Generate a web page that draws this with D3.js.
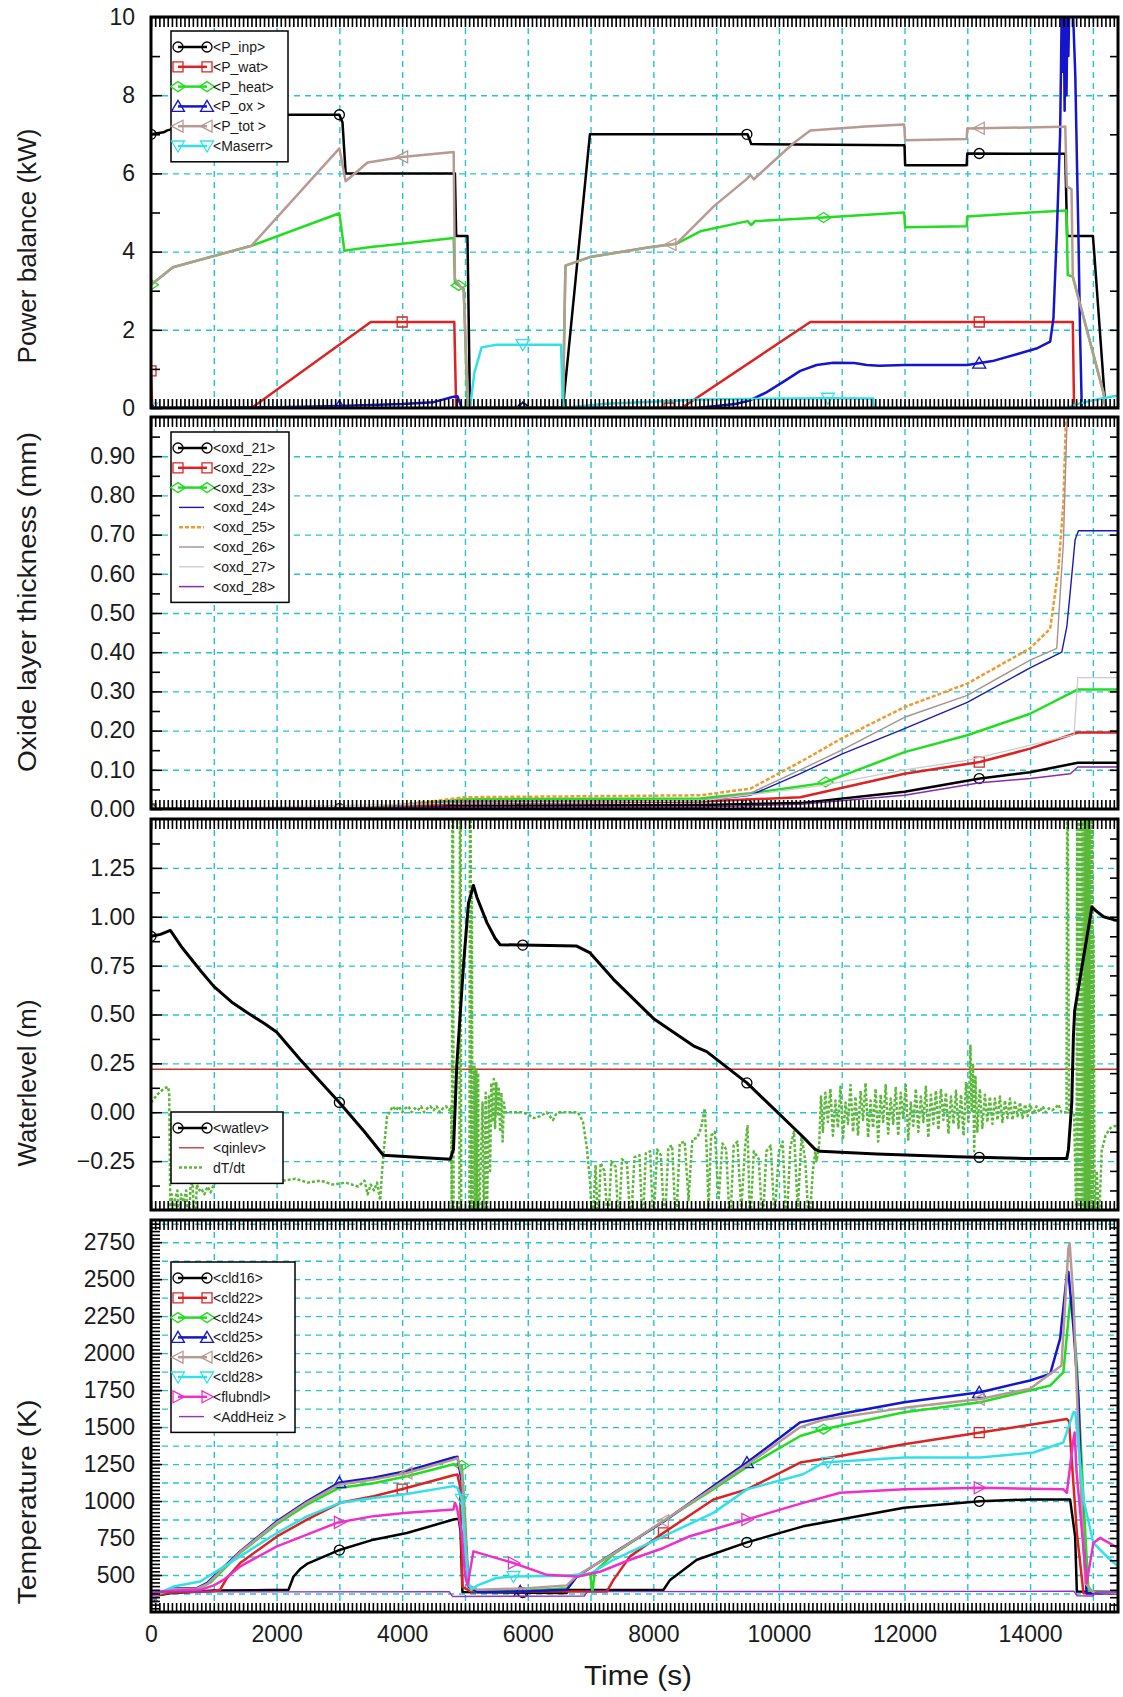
<!DOCTYPE html>
<html>
<head>
<meta charset="utf-8">
<script src="https://cdn.jsdelivr.net/npm/d3@7"></script>
<style>
  body { margin: 0; background: #fff; }
  svg text { font-family: "Liberation Sans", Arial, sans-serif; fill: #1a1a1a; }
  .grid line { stroke: #22c6d0; stroke-width: 1.4; stroke-dasharray: 6,5; }
  .ticks line { stroke: #000; stroke-width: 1.6; }
</style>
</head>
<body>
<svg id="chart" width="1123" height="1697"></svg>
<script>
// ---- time axis ----
var timeDomain = [0, 15400];
var timeTicks = [0, 2000, 4000, 6000, 8000, 10000, 12000, 14000];
var timeGrid = [1000, 2000, 3000, 4000, 5000, 6000, 7000, 8000, 9000, 10000, 11000, 12000, 13000, 14000, 15000];
var edgeTickStep = 1000 / 15;

// ---- panel 1: power balance (kW) ----
var pInp = [[0,7.0],[200,7.05],[260,7.1],[500,7.2],[650,7.5],[3000,7.5],[3050,7.3],[3100,6.0],[4840,6.0],[4860,4.4],[5040,4.4],[5080,0],[6560,0],[6990,7.0],[9500,7.0],[9560,6.75],[12000,6.72],[12010,6.21],[12990,6.21],[13000,6.51],[14560,6.5],[14590,4.4],[15000,4.4],[15020,4.0],[15200,0],[15400,0]];
var pWat = [[0,0.95],[20,0],[1600,0],[3500,2.2],[4830,2.2],[4860,0],[8450,0],[10500,2.2],[14680,2.2],[14700,0],[15400,0]];
var pHeat = [[0,3.15],[350,3.6],[1600,4.15],[3000,4.98],[3080,4.02],[3500,4.12],[4000,4.2],[4820,4.35],[4840,3.2],[4980,3.05],[5040,0],[6560,0],[6600,3.64],[6990,3.86],[7936,4.11],[8365,4.2],[8748,4.52],[9500,4.78],[9560,4.68],[9620,4.78],[10710,4.87],[11994,5.0],[12010,4.62],[12990,4.65],[13000,4.9],[14000,5.0],[14580,5.05],[14600,3.4],[14680,3.36],[15170,0.38],[15200,0],[15400,0]];
var pOx = [[0,0],[2000,0.02],[3000,0.05],[4000,0.1],[4500,0.15],[4800,0.28],[4880,0.3],[4950,0],[8700,0],[9000,0.05],[9300,0.1],[9545,0.2],[9800,0.4],[10100,0.7],[10340,0.95],[10600,1.1],[10865,1.16],[11200,1.15],[11400,1.1],[11600,1.08],[12000,1.1],[13000,1.1],[13400,1.2],[13800,1.38],[14100,1.52],[14320,1.7],[14372,2.3],[14425,4.44],[14478,7.0],[14505,10.3],[14520,8.6],[14535,10.3],[14550,7.6],[14565,10.3],[14580,8.0],[14595,10.3],[14610,9.0],[14625,10.3],[14680,10.3],[14720,8.5],[14750,6.0],[14770,4.4],[14796,1.9],[14823,0],[15400,0]];
var pTot = [[0,3.15],[350,3.6],[1600,4.15],[3000,6.64],[3100,5.8],[3450,6.28],[4000,6.42],[4820,6.55],[4840,3.3],[4980,3.0],[5050,0],[6560,0],[6600,3.64],[6990,3.86],[7936,4.11],[8365,4.2],[8970,5.17],[9490,5.86],[9545,5.96],[9600,5.85],[10230,6.77],[10500,7.1],[11380,7.2],[11994,7.25],[12010,6.85],[12990,6.88],[13000,7.15],[14505,7.19],[14560,7.2],[14585,5.66],[14660,5.6],[14680,3.36],[15170,0.38],[15200,0],[15400,0]];
var maserr = [[0,0],[5080,0],[5150,0.9],[5265,1.55],[5500,1.62],[6530,1.62],[6560,0],[7242,0.11],[8000,0.16],[8748,0.22],[10700,0.25],[11500,0.24],[11510,0],[14600,0],[14700,0.08],[15000,0.2],[15400,0.32]];
var powerTicks = [0, 2, 4, 6, 8, 10];
var powerGrid = [2, 4, 6, 8];
var powerMinor = [1, 3, 5, 7, 9];
var powerRight = [1, 2, 3, 4, 5, 6, 7, 8, 9];

// ---- panel 2: oxide layer thickness (mm) ----
var oxd21 = [[0,0],[3500,0.001],[5000,0.008],[8748,0.01],[10340,0.015],[12000,0.044],[13200,0.078],[14000,0.094],[14700,0.116],[14760,0.118],[15400,0.118]];
var oxd22 = [[0,0],[3500,0.002],[5000,0.015],[8748,0.019],[10340,0.03],[12000,0.09],[13200,0.12],[14000,0.154],[14700,0.192],[14760,0.195],[15400,0.195]];
var oxd23 = [[0,0],[3500,0.003],[5000,0.025],[8748,0.027],[9545,0.04],[10700,0.066],[12000,0.145],[13000,0.188],[14000,0.243],[14700,0.3],[14760,0.305],[15400,0.305]];
var oxd24 = [[0,0],[3500,0.002],[5000,0.02],[8748,0.02],[9545,0.035],[10340,0.09],[11000,0.14],[12000,0.205],[13000,0.272],[14000,0.36],[14505,0.4],[14585,0.465],[14637,0.55],[14717,0.687],[14770,0.71],[15400,0.71]];
var oxd25 = [[0,0],[3500,0.003],[4500,0.02],[5000,0.03],[8748,0.035],[9545,0.052],[10340,0.12],[11000,0.18],[12000,0.26],[13000,0.32],[14000,0.41],[14320,0.46],[14450,0.61],[14530,0.78],[14580,1.05],[15400,1.05]];
var oxd26 = [[0,0],[3500,0.002],[5000,0.02],[8748,0.022],[9545,0.04],[10340,0.1],[11000,0.15],[12000,0.234],[13000,0.29],[14000,0.38],[14425,0.41],[14530,0.68],[14600,1.05],[15400,1.05]];
var oxd27 = [[0,0],[5000,0.015],[8748,0.02],[10700,0.06],[12000,0.1],[13000,0.124],[14700,0.19],[14760,0.335],[15400,0.335]];
var oxd28 = [[0,0],[5000,0.005],[8748,0.005],[10340,0.012],[12000,0.035],[13200,0.067],[14000,0.078],[14640,0.09],[14760,0.107],[15400,0.107]];
var oxideTicks = [0, 0.1, 0.2, 0.3, 0.4, 0.5, 0.6, 0.7, 0.8, 0.9];
var oxideGrid = [0.1, 0.2, 0.3, 0.4, 0.5, 0.6, 0.7, 0.8, 0.9];
var oxideMinor = [0.05, 0.15, 0.25, 0.35, 0.45, 0.55, 0.65, 0.75, 0.85, 0.95];
var oxideRight = [0.05, 0.1, 0.15, 0.2, 0.25, 0.3, 0.35, 0.4, 0.45, 0.5, 0.55, 0.6, 0.65, 0.7, 0.75, 0.8, 0.85, 0.9, 0.95];

// ---- panel 3: water level (m) ----
var watlev = [[0,0.9],[150,0.91],[308,0.93],[500,0.84],[800,0.72],[1000,0.644],[1300,0.56],[1530,0.51],[1800,0.455],[2000,0.41],[2375,0.27],[3000,0.05],[3400,-0.1],[3700,-0.22],[4235,-0.23],[4765,-0.24],[4817,-0.19],[4870,0.24],[4976,0.75],[5056,1.07],[5135,1.16],[5190,1.1],[5350,0.97],[5480,0.89],[5560,0.857],[6780,0.85],[6993,0.815],[7365,0.68],[8000,0.48],[8638,0.34],[8850,0.31],[9490,0.15],[10365,-0.12],[10577,-0.19],[10656,-0.2],[11560,-0.214],[12833,-0.228],[13947,-0.236],[14585,-0.236],[14611,-0.19],[14664,0.05],[14690,0.39],[14710,0.52],[14985,1.05],[15050,1.03],[15170,1.0],[15330,0.985],[15400,0.98]];
var qinlev = [[0,0.22],[15400,0.22]];
var dTdt = [[0,0.05],[100,0.09],[200,0.12],[270,0.13],[290,0.1],
  [310,-0.6],[330,-0.42],[360,-0.6],[380,-0.45],[420,-0.4],[450,-0.55],[480,-0.42],[520,-0.46],[560,-0.4],[600,-0.6],[630,-0.38],[660,-0.36],[700,-0.6],[730,-0.37],[770,-0.4],[800,-0.39],[850,-0.42],[900,-0.38],[950,-0.41],[1000,-0.37],
  [1100,-0.33],[1300,-0.35],[1500,-0.32],[1700,-0.34],[1900,-0.33],[2100,-0.35],[2300,-0.34],[2500,-0.36],[2700,-0.35],[2900,-0.37],[3100,-0.36],[3300,-0.38],[3400,-0.35],[3450,-0.42],[3500,-0.37],[3550,-0.4],[3600,-0.36],[3650,-0.45],[3680,-0.3],
  [3720,-0.15],[3760,-0.02],[3800,0.0],[3850,0.03],[3900,0.01],[3950,0.03],[4000,0.0],[4050,0.02],[4100,0.03],[4150,0.0],[4200,0.02],[4250,0.01],[4300,0.03],[4350,0.0],[4400,0.02],[4450,0.03],[4500,0.01],[4550,0.03],[4600,0.0],[4650,0.02],[4700,0.03],[4750,0.01],[4780,0.03],
  [4790,-0.6],[4800,1.6],[4810,1.6],[4820,-0.6],[4910,-0.6],[4920,1.6],[4930,1.6],[4940,-0.6],[5070,-0.6],[5080,1.6],[5090,1.6],[5100,-0.6],[5110,1.15],[5120,-0.6],[5150,0.24],[5160,-0.6],[5180,0.22],[5190,-0.6],[5210,0.2],[5220,-0.6],
  [5280,0.05],[5300,-0.6],[5330,0.1],[5350,-0.55],[5380,0.08],[5400,-0.3],[5420,0.15],[5440,-0.05],[5460,0.17],[5480,-0.08],[5500,0.15],[5520,-0.02],[5540,0.12],[5560,-0.1],[5580,0.1],[5600,-0.15],[5620,0.05],[5640,0.0],
  [5700,0.0],[5900,0.0],[6000,-0.01],[6100,-0.03],[6200,-0.02],[6300,0.0],[6400,-0.04],[6450,-0.01],[6500,0.0],[6800,0.0],[6880,-0.05],[6940,-0.18],[6990,-0.35],[7030,-0.6],
  [7080,-0.27],[7120,-0.6],[7160,-0.26],[7220,-0.3],[7280,-0.6],[7330,-0.25],[7400,-0.28],[7450,-0.6],[7500,-0.24],[7580,-0.26],[7640,-0.6],[7700,-0.23],[7780,-0.22],[7830,-0.6],[7880,-0.21],[7950,-0.2],[8000,-0.6],[8060,-0.19],[8120,-0.22],[8180,-0.6],[8240,-0.18],[8300,-0.17],[8360,-0.6],[8420,-0.16],[8500,-0.15],[8560,-0.45],[8620,-0.14],[8700,-0.13],[8760,-0.08],[8820,0.02],[8850,-0.2],[8880,-0.5],[8920,-0.12],[8980,-0.1],[9040,-0.45],[9100,-0.16],[9160,-0.19],[9220,-0.6],[9280,-0.17],[9340,-0.15],[9400,-0.5],[9460,-0.18],[9500,-0.07],[9540,-0.6],[9600,-0.2],[9680,-0.24],[9740,-0.6],[9800,-0.2],[9870,-0.17],[9930,-0.55],[10000,-0.2],[10060,-0.15],[10120,-0.6],[10180,-0.18],[10240,-0.1],[10300,-0.5],[10360,-0.12],[10420,-0.25],[10480,-0.6],[10540,-0.3],[10580,-0.2],
  [10600,-0.25],[10640,-0.17],[10670,0.08],[10700,-0.1],[10740,0.1],[10780,-0.05],[10820,0.12],[10860,-0.12],[10900,0.06],[10940,-0.08],[10980,0.13],[11020,-0.14],[11060,0.05],[11100,-0.06],[11140,0.14],[11180,-0.1],[11220,0.08],[11260,-0.12],[11300,0.11],[11340,-0.04],[11380,0.15],[11420,-0.13],[11460,0.06],[11500,-0.08],[11540,0.12],[11580,-0.15],[11620,0.09],[11660,-0.05],[11700,0.14],[11740,-0.11],[11780,0.07],[11820,-0.06],[11860,0.13],[11900,-0.12],[11940,0.1],[11980,-0.03],[12020,0.14],[12060,-0.14],[12100,0.05],[12140,-0.07],[12180,0.12],[12220,-0.1],[12260,0.08],[12300,-0.05],[12340,0.13],[12380,-0.13],[12420,0.09],[12460,-0.06],[12500,0.11],[12540,-0.09],[12580,0.12],[12620,-0.04],[12660,0.1],[12700,-0.11],[12740,0.08],[12780,-0.06],[12820,0.11],[12860,-0.08],[12900,0.09],[12940,-0.12],[12980,0.15],[13020,-0.05],[13050,0.34],[13070,0.0],[13090,0.25],[13110,-0.2],[13130,0.18],[13160,-0.1],[13200,0.12],[13240,-0.08],[13280,0.09],[13320,-0.05],[13360,0.08],[13400,-0.06],[13440,0.07],[13480,-0.04],[13520,0.08],[13560,-0.05],[13600,0.06],[13640,-0.03],[13680,0.07],[13720,-0.04],[13760,0.05],[13800,-0.02],[13840,0.05],[13880,-0.03],[13920,0.04],[13960,-0.02],[14000,0.04],[14050,-0.01],[14100,0.03],[14150,0.0],[14200,0.03],[14250,0.0],[14300,0.02],[14350,0.01],[14400,0.02],[14450,0.04],[14500,0.0],[14560,0.0],
  [14580,0.0],[14590,1.6],[14600,1.6],[14620,0.0],[14700,0.0],[14740,-0.6],[14750,1.6],[14760,-0.6],[14770,1.6],[14780,-0.6],[14790,1.6],[14800,-0.6],[14810,1.6],[14820,-0.6],[14830,1.6],[14840,-0.6],[14850,1.6],[14860,-0.6],[14870,1.6],[14880,-0.6],[14890,1.6],[14900,-0.6],[14910,1.6],[14920,-0.6],[14930,1.6],[14940,-0.6],[14950,1.6],[14960,-0.6],[14970,1.6],[14980,-0.6],[14990,1.6],[15000,-0.6],[15010,0.9],[15030,-0.6],[15060,-0.3],[15100,-0.55],[15140,-0.2],[15200,-0.12],[15280,-0.08],[15350,-0.07],[15400,-0.07]];
var waterTicks = [-0.25, 0, 0.25, 0.5, 0.75, 1.0, 1.25];
var waterGrid = [-0.25, 0, 0.25, 0.5, 0.75, 1.0, 1.25];
var waterMinor = [-0.375, -0.125, 0.125, 0.375, 0.625, 0.875, 1.125, 1.375];
var waterRight = [-0.4, -0.3, -0.2, -0.1, 0, 0.1, 0.2, 0.3, 0.4, 0.5, 0.6, 0.7, 0.8, 0.9, 1.0, 1.1, 1.2, 1.3, 1.4];

// ---- panel 4: temperature (K) ----
var cld16 = [[0,354],[300,377],[1000,395],[2190,400],[2270,490],[2375,540],[2483,575],[3013,671],[3543,739],[4075,784],[4817,875],[4900,880],[4930,800],[4960,385],[6620,378],[6640,399],[8160,399],[8267,467],[8693,603],[9490,721],[10385,829],[10975,875],[11994,955],[13205,999],[14000,1011],[14637,1011],[14717,762],[14745,388],[15400,385]];
var cld22 = [[0,354],[300,380],[995,390],[1100,400],[1208,479],[1420,581],[2005,761],[2483,874],[3013,988],[3543,1033],[4021,1083],[4817,1174],[4880,1180],[4920,1100],[4960,420],[5100,388],[7259,388],[7365,467],[7630,626],[8161,785],[8957,1011],[9490,1079],[10340,1260],[10975,1305],[11994,1384],[13205,1463],[14585,1554],[14620,1540],[14745,785],[14850,377],[15400,377]];
var cld24 = [[0,354],[359,405],[730,405],[950,450],[1420,650],[2005,845],[2483,975],[2987,1088],[3543,1120],[4075,1168],[4817,1249],[4950,1240],[5000,900],[5060,420],[5200,385],[6000,395],[6622,410],[6782,490],[6993,510],[7030,390],[7070,525],[7365,640],[8161,865],[8957,1080],[9490,1230],[10340,1440],[10710,1486],[11994,1600],[13205,1668],[14320,1781],[14530,1872],[14637,2347],[14660,2370],[14745,1917],[14850,1011],[14930,388],[15400,380]];
var cld25 = [[0,354],[359,411],[730,411],[890,445],[1420,660],[2005,863],[2483,999],[2987,1124],[3543,1158],[4075,1203],[4817,1294],[4880,1300],[4950,1124],[5056,422],[5200,385],[6000,390],[6622,400],[6782,490],[7365,649],[8161,860],[8957,1101],[9490,1260],[10340,1532],[10975,1588],[11994,1668],[13205,1736],[14000,1815],[14320,1860],[14478,2098],[14585,2528],[14610,2550],[14690,2176],[14770,1690],[14840,785],[14900,377],[15400,377]];
var cld26 = [[0,354],[359,408],[730,408],[900,440],[1420,655],[2005,855],[2483,990],[2987,1110],[3543,1145],[4075,1190],[4817,1280],[4880,1290],[4950,1180],[5056,430],[5200,400],[6000,410],[6622,430],[6782,495],[7365,645],[8161,865],[8957,1090],[9490,1245],[10340,1500],[10710,1550],[11994,1630],[13205,1690],[14000,1760],[14500,1917],[14610,2709],[14630,2743],[14690,2370],[14770,1464],[14880,445],[15000,385],[15400,380]];
var cld28 = [[0,354],[359,422],[783,456],[1420,626],[2005,784],[2483,897],[3013,988],[3543,1020],[4021,1045],[4817,1101],[4880,1090],[4950,1011],[5000,700],[5056,450],[5100,400],[5200,430],[5500,480],[5772,490],[6600,495],[7000,510],[7365,603],[8161,762],[8957,920],[9490,1079],[10385,1181],[10710,1260],[11994,1294],[13205,1294],[14054,1328],[14530,1396],[14690,1600],[14720,1600],[14850,1011],[15008,717],[15275,603],[15400,560]];
var flubndl = [[0,354],[100,388],[600,399],[800,402],[1000,430],[1155,467],[1420,558],[2005,694],[2483,773],[2960,853],[3543,898],[4075,921],[4817,943],[4840,988],[4870,960],[4950,784],[5000,500],[5040,430],[5135,660],[5772,581],[6304,501],[6800,490],[7160,524],[7630,603],[8161,683],[8580,762],[9490,875],[10385,988],[10975,1056],[11994,1079],[13205,1090],[14530,1079],[14585,1056],[14690,1418],[14710,1463],[14740,1200],[14780,1011],[14900,445],[15008,717],[15115,751],[15400,683]];
var addHeiz = [[0,385],[4750,388],[4800,355],[6900,358],[6950,388],[14700,390],[14750,360],[15000,358],[15050,385],[15400,385]];
var tempTicks = [500, 750, 1000, 1250, 1500, 1750, 2000, 2250, 2500, 2750];
var tempGrid = d3.range(375, 2900, 125);
var tempMinor = d3.range(275, 2900, 25);
var tempRight = d3.range(300, 2900, 50);

// ---- layout ----
var plotLeft = 151, plotRight = 1118;
var svg = d3.select('#chart');
var x = d3.scaleLinear().domain(timeDomain).range([plotLeft, plotRight]);

var panels = [
  { id: 1, top: 17, bottom: 408, domain: [0, 10], ticks: powerTicks, grid: powerGrid, minor: powerMinor, right: powerRight,
    fmt: d3.format('d'), title: 'Power balance (kW)', titleLen: 235, titleY: 246,
    legend: { x: 171, y: 31, w: 117 },
    series: [
      { name: '<P_inp>', data: pInp, color: '#000000', width: 2.5, marker: 'circle', marks: [0, 3000, 5920, 9490, 13190] },
      { name: '<P_wat>', data: pWat, color: '#dd2222', width: 2.5, marker: 'square', marks: [0, 4000, 8250, 13190] },
      { name: '<P_heat>', data: pHeat, color: '#22dd22', width: 2.5, marker: 'diamond', marks: [0, 4900, 10710] },
      { name: '<P_ox >', data: pOx, color: '#1515cc', width: 2.5, marker: 'up', marks: [0, 3000, 5920, 13190] },
      { name: '<P_tot >', data: pTot, color: '#b89a94', width: 2.5, marker: 'left', marks: [4007, 8280, 13190] },
      { name: '<Maserr>', data: maserr, color: '#33e0ea', width: 2.5, marker: 'down', marks: [0, 5920, 10780] }
    ] },
  { id: 2, top: 417, bottom: 809, domain: [0, 1.0], ticks: oxideTicks, grid: oxideGrid, minor: oxideMinor, right: oxideRight,
    fmt: d3.format('.2f'), title: 'Oxide layer thickness (mm)', titleLen: 340, titleY: 602,
    legend: { x: 171, y: 432, w: 118 },
    series: [
      { name: '<oxd_21>', data: oxd21, color: '#000000', width: 2.5, marker: 'circle', marks: [0, 3000, 5920, 9490, 13190] },
      { name: '<oxd_22>', data: oxd22, color: '#dd2222', width: 2.5, marker: 'square', marks: [0, 13190] },
      { name: '<oxd_23>', data: oxd23, color: '#22dd22', width: 2.5, marker: 'diamond', marks: [0, 10745] },
      { name: '<oxd_24>', data: oxd24, color: '#1a1ab8', width: 1.4 },
      { name: '<oxd_25>', data: oxd25, color: '#ee9a30', width: 2.5, dash: '4,2' },
      { name: '<oxd_26>', data: oxd26, color: '#a89090', width: 1.4 },
      { name: '<oxd_27>', data: oxd27, color: '#cccccc', width: 1.3 },
      { name: '<oxd_28>', data: oxd28, color: '#8a2ab0', width: 1.5 }
    ] },
  { id: 3, top: 819, bottom: 1210, domain: [-0.5, 1.5], ticks: waterTicks, grid: waterGrid, minor: waterMinor, right: waterRight,
    fmt: d3.format('.2f'), title: 'Waterlevel (m)', titleLen: 167, titleY: 1083,
    legend: { x: 171, y: 1112, w: 112 },
    series: [
      { name: '<watlev>', data: watlev, color: '#000000', width: 3, marker: 'circle', marks: [0, 3000, 5920, 9490, 13190], order: 2 },
      { name: '<qinlev>', data: qinlev, color: '#c83030', width: 1.3, order: 0 },
      { name: 'dT/dt', data: dTdt, color: '#5cb83a', width: 2.5, dash: '3,2', order: 1 }
    ] },
  { id: 4, top: 1220, bottom: 1612, domain: [250, 2900], ticks: tempTicks, grid: tempGrid, minor: tempMinor, right: tempRight,
    fmt: d3.format('d'), title: 'Temperature (K)', titleLen: 205, titleY: 1502,
    legend: { x: 171, y: 1262, w: 124 },
    series: [
      { name: '<cld16>', data: cld16, color: '#000000', width: 2.5, marker: 'circle', marks: [0, 3000, 5920, 9490, 13190] },
      { name: '<cld22>', data: cld22, color: '#dd2222', width: 2.5, marker: 'square', marks: [0, 4000, 8161, 13190] },
      { name: '<cld24>', data: cld24, color: '#22dd22', width: 2.5, marker: 'diamond', marks: [0, 4950, 10710] },
      { name: '<cld25>', data: cld25, color: '#1515cc', width: 2.5, marker: 'up', marks: [0, 3000, 5880, 9490, 13190] },
      { name: '<cld26>', data: cld26, color: '#b89a94', width: 2.5, marker: 'left', marks: [0, 4075, 8161, 13190] },
      { name: '<cld28>', data: cld28, color: '#33e0ea', width: 2.5, marker: 'down', marks: [0, 4950, 5772, 10780] },
      { name: '<flubndl>', data: flubndl, color: '#ee30c8', width: 2.5, marker: 'right', marks: [0, 3000, 5772, 9490, 13190] },
      { name: '<AddHeiz >', data: addHeiz, color: '#9a30c0', width: 1.4 }
    ] }
];

// linear position on a series, used to sit the symbols on their lines
function valueAt(data, t) {
  var i = d3.bisector(function(d) { return d[0]; }).left(data, t);
  if (i <= 0) return data[0][1];
  if (i >= data.length) return data[data.length - 1][1];
  var a = data[i - 1], b = data[i];
  return a[1] + (b[1] - a[1]) * (t - a[0]) / (b[0] - a[0]);
}

function markerPath(kind) {
  if (kind === 'circle') {
    var p = d3.path(); p.arc(0, 0, 5, 0, 2 * Math.PI); return p.toString();
  }
  if (kind === 'square') return 'M-5,-5H5V5H-5Z';
  if (kind === 'diamond') return 'M-7.5,0L0,-5L7.5,0L0,5Z';
  if (kind === 'up') return 'M0,-6L6.5,5H-6.5Z';
  if (kind === 'down') return 'M0,6L6.5,-5H-6.5Z';
  if (kind === 'left') return 'M-6.5,0L5,-6V6Z';
  if (kind === 'right') return 'M6.5,0L-5,-6V6Z';
  return '';
}

function drawPanel(p) {
  var y = d3.scaleLinear().domain(p.domain).range([p.bottom, p.top]);
  var h = p.bottom - p.top, w = plotRight - plotLeft;
  var g = svg.append('g');

  svg.append('clipPath').attr('id', 'clip' + p.id)
    .append('rect').attr('x', plotLeft).attr('y', p.top).attr('width', w).attr('height', h);

  // dashed grid
  g.append('g').attr('class', 'grid').attr('transform', 'translate(0,' + p.bottom + ')')
    .call(d3.axisBottom(x).tickValues(timeGrid).tickSize(-h).tickFormat(''))
    .select('.domain').remove();
  g.append('g').attr('class', 'grid').attr('transform', 'translate(' + plotLeft + ',0)')
    .call(d3.axisLeft(y).tickValues(p.grid).tickSize(-w).tickFormat(''))
    .select('.domain').remove();

  // curves
  var line = d3.line().x(function(d) { return x(d[0]); }).y(function(d) { return y(d[1]); });
  var lines = g.append('g').attr('clip-path', 'url(#clip' + p.id + ')');
  var ordered = p.series.slice().sort(function(a, b) { return (a.order || 0) - (b.order || 0); });
  ordered.forEach(function(s) {
    lines.append('path').datum(s.data)
      .attr('d', line)
      .attr('fill', 'none')
      .attr('stroke', s.color)
      .attr('stroke-width', s.width)
      .attr('stroke-linejoin', 'round')
      .attr('stroke-dasharray', s.dash || null);
    if (s.marker) {
      lines.selectAll(null).data(s.marks).enter().append('path')
        .attr('d', markerPath(s.marker))
        .attr('transform', function(t) { return 'translate(' + x(t) + ',' + y(valueAt(s.data, t)) + ')'; })
        .attr('fill', 'none')
        .attr('stroke', s.color)
        .attr('stroke-width', 1.3);
    }
  });

  // dense ticks on top and bottom edges
  var edgeTicks = d3.range(0, timeDomain[1], edgeTickStep);
  g.append('g').attr('class', 'ticks').attr('transform', 'translate(0,' + p.top + ')')
    .call(d3.axisTop(x).tickValues(edgeTicks).tickSize(-10).tickFormat(''))
    .select('.domain').remove();
  g.append('g').attr('class', 'ticks').attr('transform', 'translate(0,' + p.bottom + ')')
    .call(d3.axisBottom(x).tickValues(edgeTicks).tickSize(-9).tickFormat(''))
    .select('.domain').remove();

  // left axis: labelled ticks and minor ticks
  var left = g.append('g').attr('class', 'ticks').attr('transform', 'translate(' + plotLeft + ',0)')
    .call(d3.axisLeft(y).tickValues(p.ticks).tickSizeInner(-11).tickSizeOuter(0).tickPadding(16).tickFormat(p.fmt));
  left.select('.domain').remove();
  left.selectAll('text').attr('font-size', 23).attr('fill', '#222');
  g.append('g').attr('class', 'ticks').attr('transform', 'translate(' + plotLeft + ',0)')
    .call(d3.axisLeft(y).tickValues(p.minor).tickSize(-9).tickFormat(''))
    .select('.domain').remove();

  // right axis ticks
  g.append('g').attr('class', 'ticks').attr('transform', 'translate(' + plotRight + ',0)')
    .call(d3.axisRight(y).tickValues(p.right).tickSize(-8).tickFormat(''))
    .select('.domain').remove();

  // frame
  g.append('rect').attr('x', plotLeft).attr('y', p.top).attr('width', w).attr('height', h)
    .attr('fill', 'none').attr('stroke', '#000').attr('stroke-width', 3);

  // y title
  g.append('text')
    .attr('transform', 'translate(36,' + p.titleY + ') rotate(-90)')
    .attr('text-anchor', 'middle')
    .attr('font-size', 25)
    .attr('fill', '#2a2a2a')
    .attr('textLength', p.titleLen)
    .attr('lengthAdjust', 'spacingAndGlyphs')
    .text(p.title);

  // legend
  var L = p.legend, rowH = 19.8;
  var lg = g.append('g');
  lg.append('rect').attr('x', L.x).attr('y', L.y).attr('width', L.w)
    .attr('height', p.series.length * rowH + 12)
    .attr('fill', '#fff').attr('stroke', '#000').attr('stroke-width', 1.5);
  p.series.forEach(function(s, i) {
    var ry = L.y + 16 + i * rowH;
    var x0 = s.marker ? L.x + 7 : L.x + 8, x1 = s.marker ? L.x + 36 : L.x + 33;
    lg.append('line').attr('x1', x0).attr('x2', x1).attr('y1', ry).attr('y2', ry)
      .attr('stroke', s.color).attr('stroke-width', Math.min(s.width, 2.5))
      .attr('stroke-dasharray', s.dash || null);
    if (s.marker) {
      [x0, x1].forEach(function(mx) {
        lg.append('path').attr('d', markerPath(s.marker))
          .attr('transform', 'translate(' + mx + ',' + ry + ')')
          .attr('fill', 'none').attr('stroke', s.color).attr('stroke-width', 1.3);
      });
    }
    lg.append('text').attr('x', L.x + 42).attr('y', ry).attr('dy', '0.35em')
      .attr('font-size', 14).text(s.name);
  });

  return y;
}

panels.forEach(drawPanel);

// bottom time labels
var last = panels[panels.length - 1];
var xAxis = svg.append('g').attr('transform', 'translate(0,' + last.bottom + ')')
  .call(d3.axisBottom(x).tickValues(timeTicks).tickSize(0).tickPadding(14).tickFormat(d3.format('d')));
xAxis.select('.domain').remove();
xAxis.selectAll('text').attr('font-size', 23).attr('fill', '#222');

svg.append('text').attr('x', 638).attr('y', 1685).attr('text-anchor', 'middle')
  .attr('font-size', 28).attr('fill', '#2a2a2a').attr('textLength', 108).attr('lengthAdjust', 'spacingAndGlyphs')
  .text('Time (s)');
</script>
</body>
</html>
